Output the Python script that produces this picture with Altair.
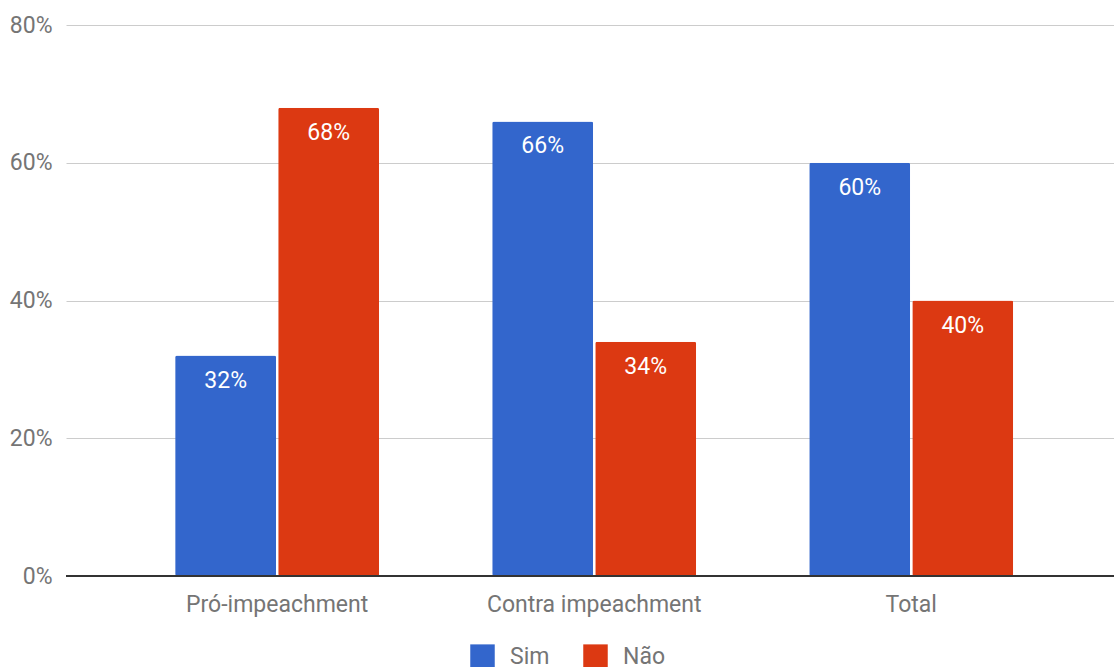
import altair as alt
import pandas as pd

# Survey answers by group
groups = ["Pró-impeachment", "Contra impeachment", "Total"]
answers = ["Sim", "Não"]
sim_values = [32, 66, 60]
nao_values = [68, 34, 40]
colors = ["#3366CC", "#DC3912"]

rows = []
for g, s, n in zip(groups, sim_values, nao_values):
    rows.append({"grupo": g, "resposta": "Sim", "valor": s})
    rows.append({"grupo": g, "resposta": "Não", "valor": n})
df = pd.DataFrame(rows)

FONT = "Roboto"
GRAY = "#757575"
FS = 23

x_enc = alt.X(
    "grupo:N",
    sort=groups,
    title=None,
    scale=alt.Scale(paddingInner=0.3565, paddingOuter=0.331, align=0.52),
    axis=alt.Axis(
        labelAngle=0, labelFontSize=FS, labelColor=GRAY, labelFont=FONT,
        labelPadding=17, labelLimit=0, ticks=False, domain=False, grid=False,
    ),
)
xoff = alt.XOffset("resposta:N", sort=answers, scale=alt.Scale(paddingInner=0.02))
y_enc = alt.Y(
    "valor:Q",
    title=None,
    scale=alt.Scale(domain=[0, 80]),
    axis=alt.Axis(
        values=[0, 20, 40, 60, 80], labelExpr="datum.value + '%'",
        labelFontSize=FS, labelColor=GRAY, labelFont=FONT, labelPadding=14,
        ticks=False, domain=False, gridColor="#CCCCCC", gridWidth=1,
    ),
)

bars = alt.Chart(df).mark_bar(cornerRadius=2).encode(
    x=x_enc,
    xOffset=xoff,
    y=y_enc,
    color=alt.Color(
        "resposta:N",
        sort=answers,
        scale=alt.Scale(domain=answers, range=colors),
        legend=alt.Legend(
            title=None, orient="none", direction="horizontal",
            legendX=404, legendY=619, symbolType="square", symbolSize=600,
            symbolStrokeWidth=0, labelFontSize=FS, labelColor=GRAY,
            labelFont=FONT, labelOffset=15, columnPadding=33, padding=0,
        ),
    ),
)

labels = (
    alt.Chart(df)
    .transform_calculate(rotulo="datum.valor + '%'")
    .mark_text(baseline="middle", dy=25, fontSize=FS, color="white", font=FONT)
    .encode(x=x_enc, xOffset=xoff, y=y_enc, text="rotulo:N")
)

# dark baseline along the zero value
baseline = alt.Chart(pd.DataFrame({"zero": [0]})).mark_rule(
    color="#333333", strokeWidth=2
).encode(y="zero:Q")

chart = (
    alt.layer(bars, labels, baseline)
    .properties(
        width=1048, height=551,
        autosize=alt.AutoSizeParams(type="none"),
        padding={"left": 66, "top": 25, "right": 0, "bottom": 91},
        view=alt.ViewConfig(stroke="transparent", strokeWidth=0),
    )
    .configure_axis(domain=False)
    .configure_view(stroke="transparent", strokeWidth=0)
    .configure(background="white")
)

chart.save("out.html", embed_options={"renderer": "svg", "actions": False})
